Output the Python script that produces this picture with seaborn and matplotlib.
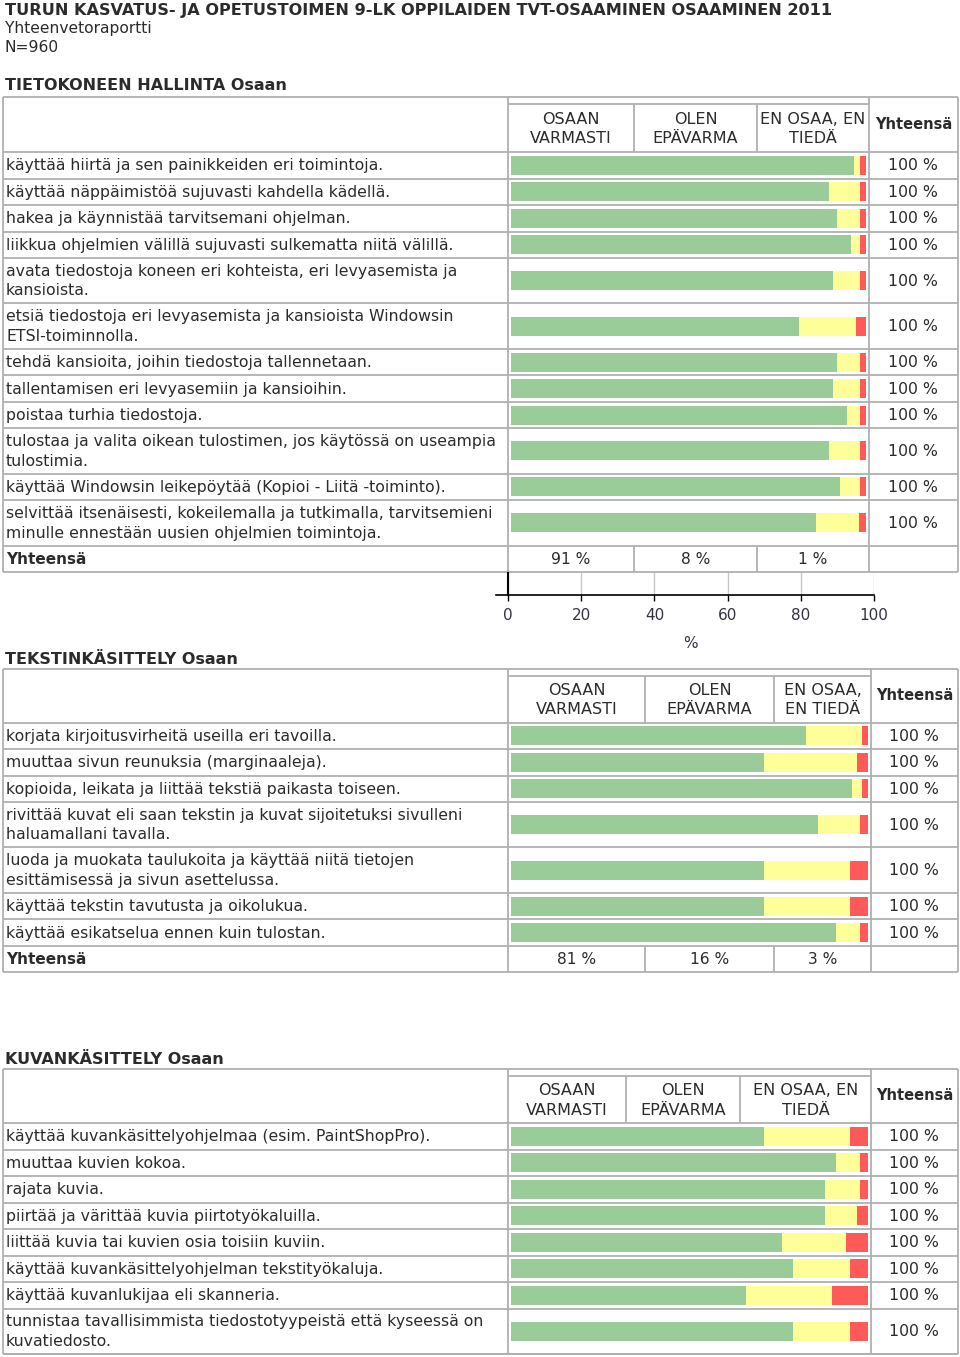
import numpy as np
import pandas as pd
import matplotlib
matplotlib.use("Agg")
import matplotlib.pyplot as plt
import seaborn as sns

# ---------------- data ----------------
title = "TURUN KASVATUS- JA OPETUSTOIMEN 9-LK OPPILAIDEN TVT-OSAAMINEN OSAAMINEN 2011"
subtitle = "Yhteenvetoraportti"
n_text = "N=960"
total_label = "Yhteensä"
total_pct = "100 %"

s1_title = "TIETOKONEEN HALLINTA Osaan"
s1_cols = ["OSAAN\nVARMASTI", "OLEN\nEPÄVARMA", "EN OSAA, EN\nTIEDÄ"]
s1_items = [
    "käyttää hiirtä ja sen painikkeiden eri toimintoja.",
    "käyttää näppäimistöä sujuvasti kahdella kädellä.",
    "hakea ja käynnistää tarvitsemani ohjelman.",
    "liikkua ohjelmien välillä sujuvasti sulkematta niitä välillä.",
    "avata tiedostoja koneen eri kohteista, eri levyasemista ja\nkansioista.",
    "etsiä tiedostoja eri levyasemista ja kansioista Windowsin\nETSI-toiminnolla.",
    "tehdä kansioita, joihin tiedostoja tallennetaan.",
    "tallentamisen eri levyasemiin ja kansioihin.",
    "poistaa turhia tiedostoja.",
    "tulostaa ja valita oikean tulostimen, jos käytössä on useampia\ntulostimia.",
    "käyttää Windowsin leikepöytää (Kopioi - Liitä -toiminto).",
    "selvittää itsenäisesti, kokeilemalla ja tutkimalla, tarvitsemieni\nminulle ennestään uusien ohjelmien toimintoja.",
]
s1_green = [96.7, 89.7, 91.7, 95.8, 90.7, 81.0, 91.7, 90.7, 94.7, 89.7, 92.7, 85.9]
s1_yellow = [1.7, 8.7, 6.7, 2.6, 7.7, 16.1, 6.7, 7.7, 3.7, 8.7, 5.7, 12.1]
s1_red = [1.6, 1.6, 1.6, 1.6, 1.6, 2.9, 1.6, 1.6, 1.6, 1.6, 1.6, 2.0]
s1_totals = ["91 %", "8 %", "1 %"]

s2_title = "TEKSTINKÄSITTELY Osaan"
s2_cols = ["OSAAN\nVARMASTI", "OLEN\nEPÄVARMA", "EN OSAA,\nEN TIEDÄ"]
s2_items = [
    "korjata kirjoitusvirheitä useilla eri tavoilla.",
    "muuttaa sivun reunuksia (marginaaleja).",
    "kopioida, leikata ja liittää tekstiä paikasta toiseen.",
    "rivittää kuvat eli saan tekstin ja kuvat sijoitetuksi sivulleni\nhaluamallani tavalla.",
    "luoda ja muokata taulukoita ja käyttää niitä tietojen\nesittämisessä ja sivun asettelussa.",
    "käyttää tekstin tavutusta ja oikolukua.",
    "käyttää esikatselua ennen kuin tulostan.",
]
s2_green = [82.7, 70.9, 95.6, 86.1, 70.9, 70.9, 91.0]
s2_yellow = [15.7, 26.1, 2.8, 11.8, 24.1, 24.1, 6.9]
s2_red = [1.6, 3.0, 1.6, 2.1, 5.0, 5.0, 2.1]
s2_totals = ["81 %", "16 %", "3 %"]

s3_title = "KUVANKÄSITTELY Osaan"
s3_cols = ["OSAAN\nVARMASTI", "OLEN\nEPÄVARMA", "EN OSAA, EN\nTIEDÄ"]
s3_items = [
    "käyttää kuvankäsittelyohjelmaa (esim. PaintShopPro).",
    "muuttaa kuvien kokoa.",
    "rajata kuvia.",
    "piirtää ja värittää kuvia piirtotyökaluilla.",
    "liittää kuvia tai kuvien osia toisiin kuviin.",
    "käyttää kuvankäsittelyohjelman tekstityökaluja.",
    "käyttää kuvanlukijaa eli skanneria.",
    "tunnistaa tavallisimmista tiedostotyypeistä että kyseessä on\nkuvatiedosto.",
]
s3_green = [70.9, 91.0, 87.9, 87.9, 76.0, 79.0, 66.0, 79.0]
s3_yellow = [24.1, 6.9, 10.0, 9.1, 18.0, 16.0, 24.0, 16.0]
s3_red = [5.0, 2.1, 2.1, 3.0, 6.0, 5.0, 10.0, 5.0]
s3_totals = None

axis_ticks = [0, 20, 40, 60, 80, 100]
axis_label = "%"

# ---------------- style ----------------
GREEN, YELLOW, RED = "#99cc99", "#ffff99", "#ff5a5a"
GRID = "#b0b0b0"
TXT = "#2b2b2b"
FONT = ["DejaVu Sans"]

W, H = 960, 1357
fig = plt.figure(figsize=(W / 100, H / 100), dpi=100)
fig.patch.set_facecolor("white")

bg = fig.add_axes([0, 0, 1, 1])
bg.set_xlim(0, W)
bg.set_ylim(H, 0)
bg.axis("off")


def px_axes(x0, y0, x1, y1):
    return fig.add_axes([x0 / W, 1 - y1 / H, (x1 - x0) / W, (y1 - y0) / H])


def hline(y, x0, x1):
    bg.plot([x0, x1], [y, y], color=GRID, lw=1.3, solid_capstyle="butt")


def vline(x, y0, y1):
    bg.plot([x, x], [y0, y1], color=GRID, lw=1.3, solid_capstyle="butt")


ROW1, ROW2, BAR_H = 26.5, 45.4, 19.0
LBL_FS = 11.35

bg.text(5, 10, title, fontsize=11.6, fontweight="bold", family=FONT, color=TXT, va="center")
bg.text(5, 29, subtitle, fontsize=11.2, family=FONT, color=TXT, va="center")
bg.text(5, 48, n_text, fontsize=11.2, family=FONT, color=TXT, va="center")


def section(sec_title, cols, items, green, yellow, red, totals, title_y, top, hb, xs, bar_x):
    df = pd.DataFrame({"item": items, "green": green, "yellow": yellow, "red": red})
    df["cum_yellow"] = df["green"] + df["yellow"]
    df["cum_red"] = df["cum_yellow"] + df["red"]

    bg.text(5, title_y, sec_title, fontsize=11.5, fontweight="bold", family=FONT, color=TXT, va="center")

    # row boundaries
    bounds = [hb]
    for it in items:
        bounds.append(bounds[-1] + (ROW2 if "\n" in it else ROW1))
    bottom = bounds[-1] + (ROW1 if totals is not None else 0)

    # grid
    hline(top, xs[0], xs[-1])
    hline(top + 7, xs[1], xs[4])
    for b in bounds:
        hline(b, xs[0], xs[-1])
    hline(bottom, xs[0], xs[-1])
    for x in (xs[0], xs[1], xs[4], xs[5]):
        vline(x, top, bottom)
    vline(xs[2], top + 7, hb)
    vline(xs[3], top + 7, hb)
    if totals is not None:
        vline(xs[2], bounds[-1], bottom)
        vline(xs[3], bounds[-1], bottom)

    # header
    for i, c in enumerate(cols):
        bg.text((xs[i + 1] + xs[i + 2]) / 2, (top + 7 + hb) / 2 + 1, c, ha="center", va="center",
                fontsize=11.5, family=FONT, color=TXT, linespacing=1.35)
    bg.text((xs[4] + xs[5]) / 2, (top + hb) / 2, total_label, ha="center", va="center",
            fontsize=10.5, fontweight="bold", family=FONT, color=TXT)

    # rows
    for i in range(len(df)):
        y0, y1 = bounds[i], bounds[i + 1]
        yc = (y0 + y1) / 2
        bg.text(6, yc + 0.5, df["item"][i], ha="left", va="center", fontsize=LBL_FS,
                family=FONT, color=TXT, linespacing=1.38)
        bg.text((xs[4] + xs[5]) / 2 - 1, yc + 0.5, total_pct, ha="center", va="center",
                fontsize=11.3, family=FONT, color=TXT)
        ax = px_axes(bar_x[0], y0, bar_x[1], y1)
        sub = df.iloc[[i]]
        for col, colr in (("cum_red", RED), ("cum_yellow", YELLOW), ("green", GREEN)):
            sns.barplot(data=sub, x=col, y="item", orient="h", color=colr, saturation=1,
                        width=BAR_H / (y1 - y0), errorbar=None, linewidth=0, ax=ax)
        ax.set_xlim(0, 100)
        ax.set_ylim(0.5, -0.5)
        ax.set_facecolor("none")
        ax.axis("off")

    if totals is not None:
        yc = (bounds[-1] + bottom) / 2
        bg.text(6, yc + 0.5, total_label, ha="left", va="center", fontsize=11,
                fontweight="bold", family=FONT, color=TXT)
        for i, t in enumerate(totals):
            bg.text((xs[i + 1] + xs[i + 2]) / 2, yc + 0.5, t, ha="center", va="center",
                    fontsize=11.2, family=FONT, color=TXT)
    return bottom


b1 = section(s1_title, s1_cols, s1_items, s1_green, s1_yellow, s1_red, s1_totals,
             86, 97, 152, [3, 508, 634, 757, 869, 958], (511, 866))
section(s2_title, s2_cols, s2_items, s2_green, s2_yellow, s2_red, s2_totals,
        660, 669, 722.5, [3, 508, 645, 774, 871, 958], (511, 867.7))
section(s3_title, s3_cols, s3_items, s3_green, s3_yellow, s3_red, s3_totals,
        1060, 1069, 1123, [3, 508, 626, 740, 871, 958], (511, 867.7))

# percentage axis under the first table
axx = px_axes(496, b1 + 1, 874, 595)
axx.set_xlim(-3.28, 100)
axx.set_ylim(0, 1)
axx.set_facecolor("none")
axx.set_xticks(axis_ticks)
axx.set_yticks([])
axx.grid(axis="x", color="#c8c8c8", lw=1)
for s in ("top", "right"):
    axx.spines[s].set_visible(False)
axx.spines["left"].set_position(("data", 0))
axx.spines["left"].set_color("black")
axx.spines["left"].set_linewidth(1.5)
axx.spines["bottom"].set_color("black")
axx.spines["bottom"].set_linewidth(1.2)
axx.tick_params(axis="x", length=4, width=1, color="black", pad=5, labelsize=11, labelcolor="#333340")
axx.set_xlabel(axis_label, fontsize=11, color="#333340", labelpad=10, x=(690 - 496) / (874 - 496))
axx.xaxis.label.set_horizontalalignment("center")

fig.savefig("out.png", dpi=100, facecolor="white")
